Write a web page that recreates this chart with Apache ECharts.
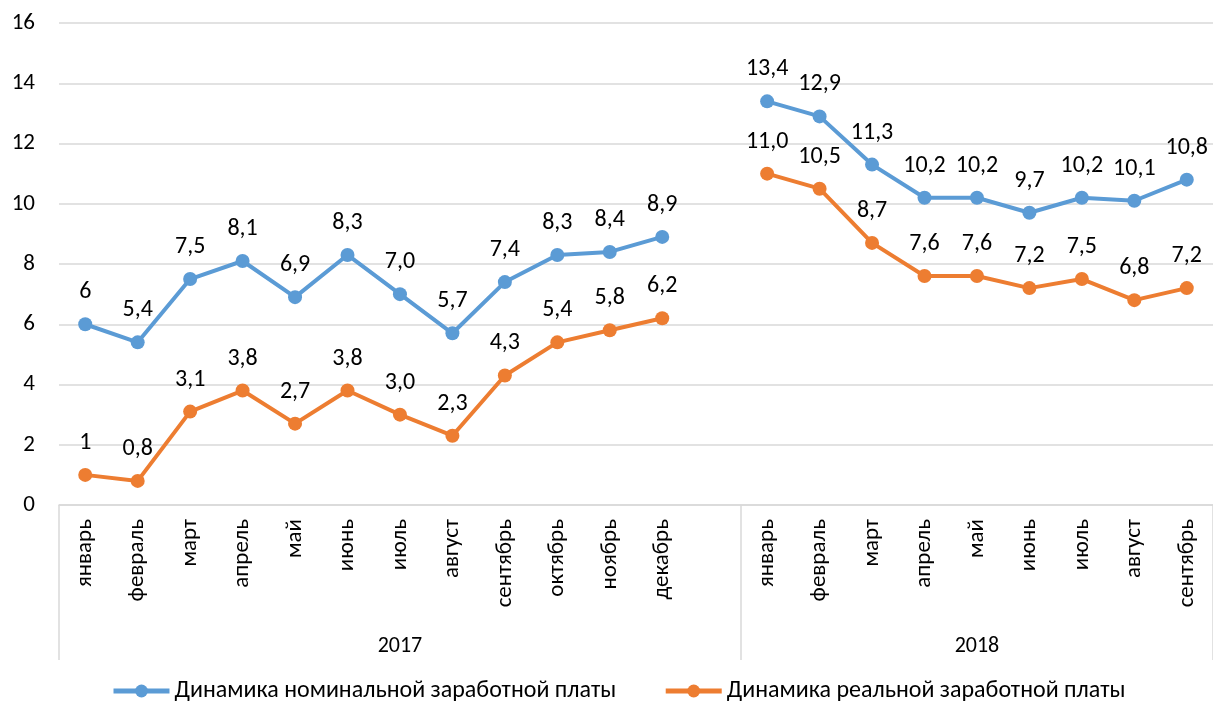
<!DOCTYPE html>
<html><head><meta charset="utf-8">
<script src="https://cdn.jsdelivr.net/npm/echarts@6/dist/echarts.min.js"></script>
<style>html,body{margin:0;padding:0;background:#fff}#c{width:1213px;height:708px}</style>
</head><body><div id="c"></div>
<script>
const months = ['январь','февраль','март','апрель','май','июнь','июль','август','сентябрь','октябрь','ноябрь','декабрь','',
  'январь','февраль','март','апрель','май','июнь','июль','август','сентябрь'];
const yearLabels = ['','','','','','','2017','','','','','','','','','','','2018','','','',''];
const groupStarts = [0, 13];
const nominal = [6,5.4,7.5,8.1,6.9,8.3,7.0,5.7,7.4,8.3,8.4,8.9,null,13.4,12.9,11.3,10.2,10.2,9.7,10.2,10.1,10.8];
const nominalLabels = ['6','5,4','7,5','8,1','6,9','8,3','7,0','5,7','7,4','8,3','8,4','8,9','','13,4','12,9','11,3','10,2','10,2','9,7','10,2','10,1','10,8'];
const real = [1,0.8,3.1,3.8,2.7,3.8,3.0,2.3,4.3,5.4,5.8,6.2,null,11.0,10.5,8.7,7.6,7.6,7.2,7.5,6.8,7.2];
const realLabels = ['1','0,8','3,1','3,8','2,7','3,8','3,0','2,3','4,3','5,4','5,8','6,2','','11,0','10,5','8,7','7,6','7,6','7,2','7,5','6,8','7,2'];
const seriesNames = ['Динамика номинальной заработной платы','Динамика реальной заработной платы'];

const FONT = 'Carlito, Calibri, "Noto Sans", sans-serif';
const chart = echarts.init(document.getElementById('c'));
function mkSeries(name, data, labels, color){
  return {
    name, type:'line', data, connectNulls:false,
    symbol:'circle', symbolSize:14,
    lineStyle:{width:4, color}, itemStyle:{color},
    label:{show:true, position:'top', distance:13, fontSize:24, fontFamily:FONT, color:'#000',
      formatter:p=>labels[p.dataIndex]},
    z:3
  };
}
chart.setOption({
  animation:false,
  grid:{left:59, right:0, top:23, bottom:203},
  legend:{bottom:0, left:106, itemWidth:56, itemHeight:16, itemGap:47,
    lineStyle:{width:5},
    textStyle:{fontSize:24, fontFamily:FONT, color:'#000'},
    data:seriesNames},
  xAxis:[
    {type:'category', data:months, boundaryGap:true, position:'bottom',
     axisLine:{show:true, lineStyle:{color:'#D9D9D9', width:1.5}},
     axisTick:{show:false},
     axisLabel:{interval:0, rotate:90, margin:14, fontSize:23, fontFamily:FONT, color:'#000'}},
    {type:'category', data:yearLabels, boundaryGap:true, position:'bottom',
     axisLine:{show:false},
     axisTick:{show:true, length:155, interval:(i)=>groupStarts.includes(i), lineStyle:{color:'#D9D9D9', width:1.5}},
     axisLabel:{interval:0, margin:130, fontSize:22, fontFamily:FONT, color:'#000'}}
  ],
  yAxis:{type:'value', min:0, max:16, interval:2,
    axisLine:{show:false}, axisTick:{show:false},
    splitLine:{lineStyle:{color:'#D9D9D9', width:1.5}},
    axisLabel:{fontSize:23, fontFamily:FONT, color:'#000', margin:24}},
  series:[
    mkSeries(seriesNames[0], nominal, nominalLabels, '#5B9BD5'),
    mkSeries(seriesNames[1], real, realLabels, '#ED7D31')
  ]
});
</script></body></html>
